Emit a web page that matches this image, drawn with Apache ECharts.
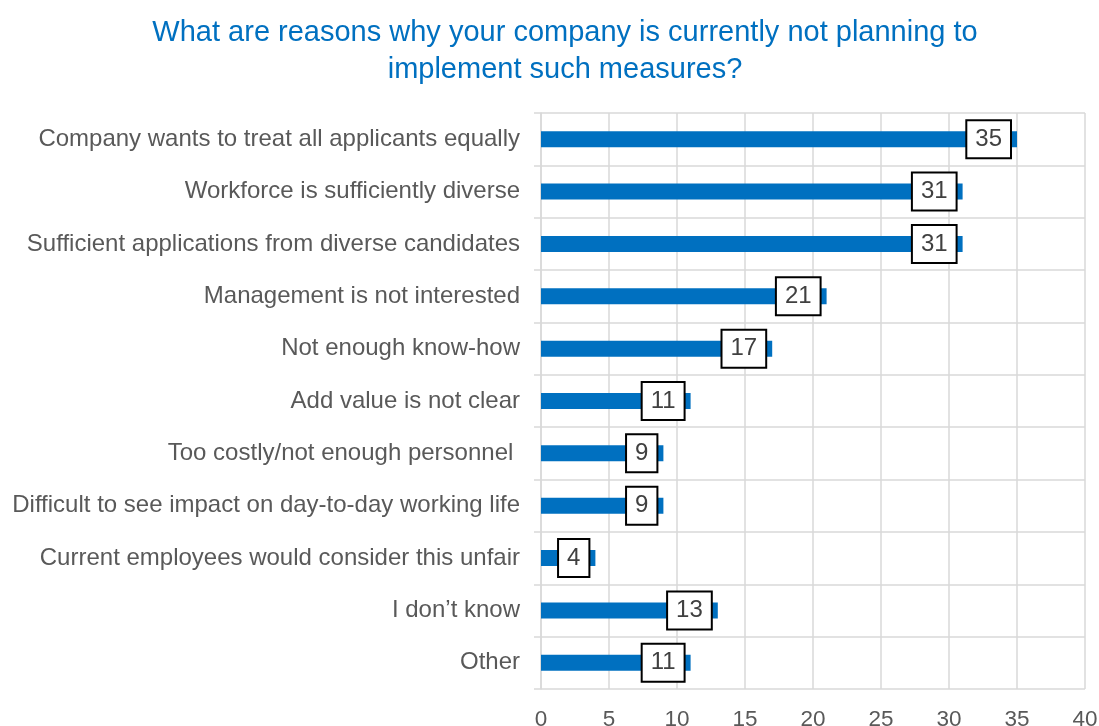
<!DOCTYPE html>
<html>
<head>
<meta charset="utf-8">
<script src="https://cdn.jsdelivr.net/npm/echarts@6/dist/echarts.min.js"></script>
<style>
  html, body { margin: 0; padding: 0; background: #fff; }
  #chart { width: 1099px; height: 726px; }
</style>
</head>
<body>
<div id="chart"></div>
<script>
// Survey answers: reasons for not planning such measures (share of respondents, %)
const categories = [
  'Company wants to treat all applicants equally',
  'Workforce is sufficiently diverse',
  'Sufficient applications from diverse candidates',
  'Management is not interested',
  'Not enough know-how',
  'Add value is not clear',
  'Too costly/not enough personnel ',
  'Difficult to see impact on day-to-day working life',
  'Current employees would consider this unfair',
  'I don\u2019t know',
  'Other'
];
const values = [35, 31, 31, 21, 17, 11, 9, 9, 4, 13, 11];
const titleLines = [
  'What are reasons why your company is currently not planning to',
  'implement such measures?'
];

const FONT = '"Liberation Sans", Arial, sans-serif';
const GRID_COLOR = '#d9d9d9';

const chart = echarts.init(document.getElementById('chart'), null, { renderer: 'canvas' });
chart.setOption({
  animation: false,
  backgroundColor: '#ffffff',
  title: {
    text: titleLines.join('\n'),
    left: 560,
    textAlign: 'center',
    top: 9,
    textStyle: {
      color: '#0070c0',
      fontFamily: FONT,
      fontWeight: 'normal',
      fontSize: 29,
      lineHeight: 37
    }
  },
  grid: {
    left: 541, right: 14, top: 113, bottom: 37,
    containLabel: false,
    outerBoundsMode: 'none'
  },
  xAxis: {
    type: 'value',
    min: 0,
    max: 40,
    interval: 5,
    axisLine: { show: false },
    axisTick: { show: false },
    splitLine: { show: true, lineStyle: { color: GRID_COLOR, width: 1.5 } },
    axisLabel: { color: '#595959', fontFamily: FONT, fontSize: 22.5, margin: 19 }
  },
  yAxis: {
    type: 'category',
    inverse: true,
    data: categories,
    axisLine: { show: true, lineStyle: { color: GRID_COLOR, width: 1.5 } },
    axisTick: { show: true, length: 7, lineStyle: { color: GRID_COLOR, width: 1.5 } },
    splitLine: { show: true, lineStyle: { color: GRID_COLOR, width: 1.5 } },
    axisLabel: { color: '#595959', fontFamily: FONT, fontSize: 24, margin: 21 }
  },
  series: [{
    type: 'bar',
    data: values,
    barWidth: 16,
    itemStyle: { color: '#0070c0' },
    label: {
      show: true,
      position: 'insideRight',
      distance: 7,
      color: '#404040',
      fontFamily: FONT,
      fontSize: 24,
      lineHeight: 24,
      backgroundColor: '#ffffff',
      borderColor: '#000000',
      borderWidth: 2,
      padding: [6, 8, 6, 8]
    }
  }]
});
</script>
</body>
</html>
